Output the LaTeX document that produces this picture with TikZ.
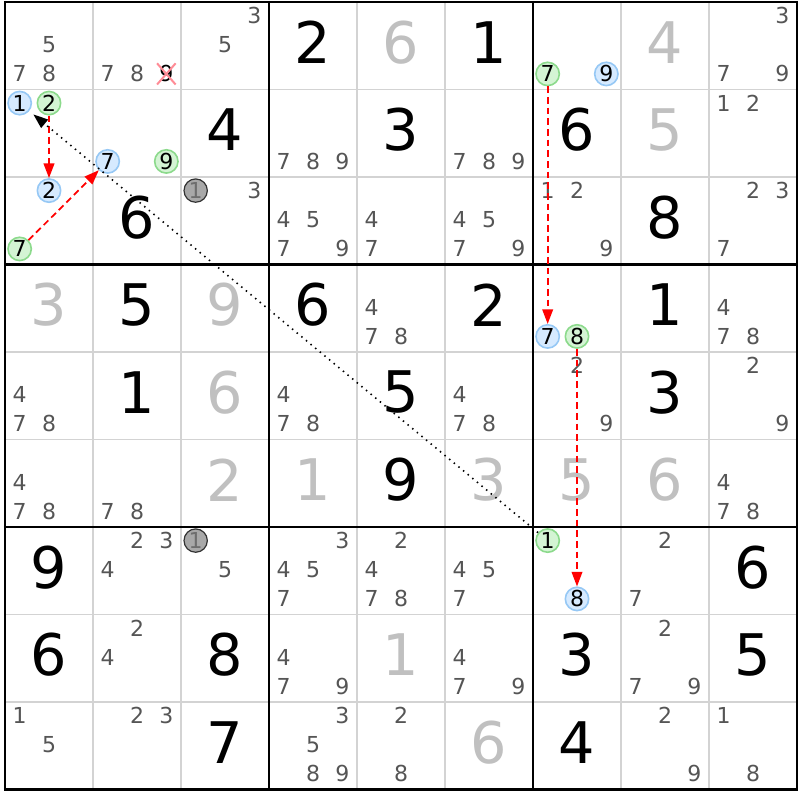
\documentclass[tikz,border=0pt]{standalone}
\usepackage{fontspec}
\setmainfont{DejaVu Sans}
\usetikzlibrary{arrows.meta}

\definecolor{gridgray}{RGB}{211,211,211}
\definecolor{candgray}{RGB}{85,85,85}
\definecolor{solvedgray}{RGB}{192,192,192}
\definecolor{bluefill}{RGB}{214,234,255}
\definecolor{blueline}{RGB}{150,200,245}
\definecolor{greenfill}{RGB}{212,244,212}
\definecolor{greenline}{RGB}{140,218,140}
\definecolor{offfill}{RGB}{168,168,168}
\definecolor{offline}{RGB}{50,50,50}
\definecolor{offtext}{RGB}{110,110,110}
\definecolor{crosspink}{RGB}{255,140,150}

\tikzset{
  thinline/.style={gridgray, line width=1.1pt},
  boxline/.style={black, line width=2.2pt},
  given/.style={inner sep=0pt, text=black, font=\fontsize{43}{45}\selectfont},
  solved/.style={given, text=solvedgray},
  cand/.style={inner sep=0pt, text=candgray, font=\fontsize{16.5}{17}\selectfont},
  bluec/.style={cand, text=black, circle, minimum size=17.5pt, fill=bluefill, draw=blueline, line width=1.2pt},
  greenc/.style={bluec, fill=greenfill, draw=greenline},
  grayc/.style={bluec, fill=offfill, draw=offline, text=offtext, line width=0.9pt},
  link/.style={red, line width=1.3pt, dash pattern=on 5pt off 3pt, -{Triangle[length=11pt,width=8pt]}},
  chain/.style={black, line width=1.2pt, dash pattern=on 1.1pt off 3.4pt, shorten >=4pt, -{Triangle[length=11pt,width=8pt]}},
  cross/.style={crosspink, line width=1.5pt}
}

\begin{document}
\begin{tikzpicture}[x=0.75pt,y=0.75pt,yscale=-1,xscale=1]
\useasboundingbox (0,0) rectangle (800,800);
\fill[white] (0,0) rectangle (800,800);

% thin cell lines
\foreach \i in {1,2,4,5,7,8} {
  \draw[thinline] ({5+\i*88},2) -- ({5+\i*88},789.5);
  \draw[thinline] (5,{2+\i*87.5}) -- (797,{2+\i*87.5});
}
% box lines
\foreach \i in {0,3,6,9} {
  \draw[boxline] ({5+\i*88},0.9) -- ({5+\i*88},790.6);
  \draw[boxline] (3.9,{2+\i*87.5}) -- (798.1,{2+\i*87.5});
}

% given digits
\foreach \r/\c/\d in {1/4/2,1/6/1,2/3/4,2/5/3,2/7/6,3/2/6,3/8/8,4/2/5,4/4/6,4/6/2,4/8/1,5/2/1,5/5/5,5/8/3,6/5/9,7/1/9,7/9/6,8/1/6,8/3/8,8/7/3,8/9/5,9/3/7,9/7/4}
  \node[given] (g\r\c) at ({5+(\c-0.5)*88},{2+(\r-0.5)*87.5-3.5}) {\d};
% solved digits
\foreach \r/\c/\d in {1/5/6,1/8/4,2/8/5,4/1/3,4/3/9,5/3/6,6/3/2,6/4/1,6/6/3,6/7/5,6/8/6,8/5/1,9/6/6}
  \node[solved] (s\r\c) at ({5+(\c-0.5)*88},{2+(\r-0.5)*87.5-3.5}) {\d};

% candidates
\foreach \r/\c/\ds in {1/1/{5,7,8},1/2/{7,8},1/3/{3,5},1/9/{3,7,9},2/4/{7,8,9},2/6/{7,8,9},2/9/{1,2},
    3/3/{3},3/4/{4,5,7,9},3/5/{4,7},3/6/{4,5,7,9},3/7/{1,2,9},3/9/{2,3,7},4/5/{4,7,8},4/9/{4,7,8},
    5/1/{4,7,8},5/4/{4,7,8},5/6/{4,7,8},5/7/{2,9},5/9/{2,9},6/1/{4,7,8},6/2/{7,8},6/9/{4,7,8},
    7/2/{2,3,4},7/3/{5},7/4/{3,4,5,7},7/5/{2,4,7,8},7/6/{4,5,7},7/8/{2,7},8/2/{2,4},8/4/{4,7,9},
    8/6/{4,7,9},8/8/{2,7,9},9/1/{1,5},9/2/{2,3},9/4/{3,5,8,9},9/5/{2,8},9/8/{2,9},9/9/{1,8}} {
  \foreach \d in \ds {
    \pgfmathsetmacro\px{5+(\c-1)*88+(2*mod(\d-1,3)+1)*88/6}
    \pgfmathsetmacro\py{1+(\r-1)*87.5+(2*int((\d-1)/3)+1)*87.5/6}
    \node[cand] (k\r\c-\d) at (\px,\py) {\d};
  }
}

% marked candidates
\foreach \r/\c/\d/\s in {1/7/7/greenc,1/7/9/bluec,2/1/1/bluec,2/1/2/greenc,2/2/7/bluec,2/2/9/greenc,
    3/1/2/bluec,3/1/7/greenc,4/7/7/bluec,4/7/8/greenc,7/7/1/greenc,7/7/8/bluec,3/3/1/grayc,7/3/1/grayc} {
  \pgfmathsetmacro\px{5+(\c-1)*88+(2*mod(\d-1,3)+1)*88/6}
  \pgfmathsetmacro\py{1+(\r-1)*87.5+(2*int((\d-1)/3)+1)*87.5/6}
  \node[\s] (p\r\c-\d) at (\px,\py) {\d};
}

% eliminated candidate
\node[cand, text=black, inner sep=1.5pt] (x12-9) at ({93+5*88/6},{1+5*87.5/6}) {9};
\draw[cross] (x12-9.north west) -- (x12-9.south east);
\draw[cross] (x12-9.south west) -- (x12-9.north east);

% links
\draw[link] (p21-2) -- (p31-2);
\draw[link] (p31-7) -- (p22-7);
\draw[link] (p17-7) -- (p47-7);
\draw[link] (p47-8) -- (p77-8);
\draw[chain] (p77-1) -- (p21-1);

\end{tikzpicture}
\end{document}
